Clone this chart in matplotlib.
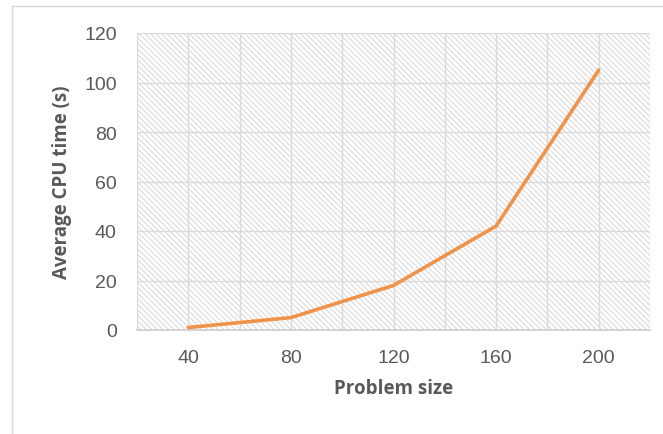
import matplotlib
matplotlib.use("Agg")
import matplotlib.pyplot as plt
from matplotlib.lines import Line2D

categories = ["40", "80", "120", "160", "200"]
cpu_time = [1, 5, 18, 42, 105]
y_ticks = [0, 20, 40, 60, 80, 100, 120]

plt.rcParams['font.family'] = ['Liberation Sans', 'DejaVu Sans']
plt.rcParams['hatch.linewidth'] = 0.7
plt.rcParams['hatch.color'] = '#d6d6d6'

W, H = 663, 435
fig = plt.figure(figsize=(W / 100, H / 100), dpi=100)
ax = fig.add_axes([137 / W, 1 - 331 / H, (650 - 137) / W, (331 - 34) / H])

ax.patch.set_facecolor('white')
ax.patch.set_hatch('\\' * 6)
ax.patch.set_edgecolor('#d6d6d6')
ax.patch.set_linewidth(0)

x = list(range(len(categories)))
ax.set_xlim(-0.5, len(categories) - 0.5)
ax.set_ylim(0, 120)

grid_c = '#dadada'
for i in range(2 * len(categories) + 1):
    ax.axvline(-0.5 + 0.5 * i, color=grid_c, lw=1.0, zorder=1)
for t in y_ticks[1:]:
    ax.axhline(t, color=grid_c, lw=1.0, zorder=1)

ax.plot(x, cpu_time, color='#F0934A', lw=2.6, solid_capstyle='round', zorder=3)

for s in ['top', 'right', 'left']:
    ax.spines[s].set_visible(False)
ax.spines['bottom'].set_color('#d0d0d0')
ax.spines['bottom'].set_linewidth(1.3)

ax.set_xticks(x)
ax.set_xticklabels(categories)
ax.set_yticks(y_ticks)
ax.tick_params(axis='both', length=0, labelsize=14, labelcolor='#595959')
ax.tick_params(axis='x', pad=13.5)
ax.tick_params(axis='y', pad=14.5)

lab_font = ['Open Sans', 'DejaVu Sans']
ax.set_xlabel('Problem size', fontsize=13.5, fontweight='bold', color='#595959',
              labelpad=9, family=lab_font)
ax.set_ylabel('Average CPU time (s)', fontsize=13.5, fontweight='bold', color='#595959',
              labelpad=9, family=lab_font)

fig.add_artist(Line2D([12 / W, 12 / W], [0, 1 - 7 / H], color='#d9d9d9', lw=1.0, transform=fig.transFigure))
fig.add_artist(Line2D([12 / W, 1], [1 - 7 / H, 1 - 7 / H], color='#d9d9d9', lw=1.0, transform=fig.transFigure))

fig.savefig('out.png', dpi=100)
